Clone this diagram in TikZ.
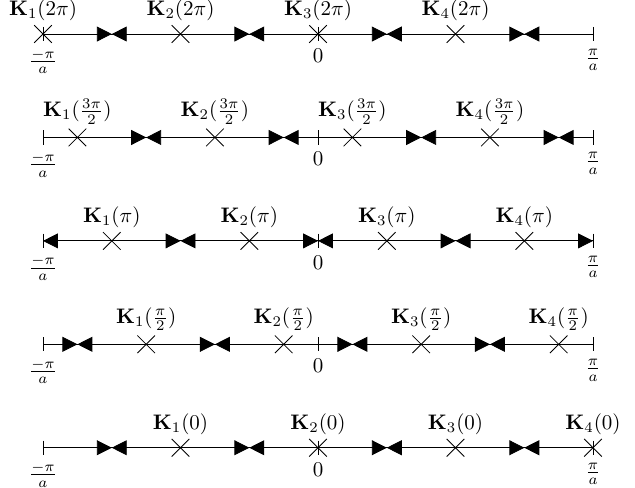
\documentclass[tikz,border=0pt]{standalone}
\usepackage{amsmath, amssymb}
\usepackage{tikz}
\usetikzlibrary{calc, arrows.meta, shapes.misc}

\begin{document}
\begin{tikzpicture}[x=2.3cm, y=1.73cm,
    crs/.style={draw, cross out, minimum size=0.28cm, inner sep=0pt},
    hd/.style={-{Triangle[length=0.25cm, width=0.25cm]}},
    klab/.style={inner sep=2pt}]
    \useasboundingbox (-2.313,0.329) rectangle (2.305,-4.387);
    \foreach \row/\sh/\kk in {0/0/2\pi, 1/0.25/\frac{3\pi}{2}, 2/0.5/\pi, 3/0.75/\frac{\pi}{2}, 4/1/0} {
      \coordinate (L\row) at (-2,-\row);
      \coordinate (O\row) at (0,-\row);
      \coordinate (R\row) at (2,-\row);
      \draw (L\row) -- (R\row);
      % ticks at the zone edges and at 0
      \foreach \tk/\lab in {L/\frac{-\pi}{a}, O/0, R/\frac{\pi}{a}}
        \draw (\tk\row) ++(0,0.12cm) -- ++(0,-0.24cm) node[below, inner sep=3.5pt] (t\tk\row) {$\lab$};
      \foreach \n in {1,...,4}
        \node[crs, label={[klab]above:$\mathbf{K}_{\n}(\kk)$}] (K\row\n) at (\n-3+\sh,-\row) {};
      % arrows, periodic copies cut off at the zone edges
      \begin{scope}
        \clip ($(L\row)+(0,-0.2)$) rectangle ($(R\row)+(0,0.2)$);
        \foreach \n in {0,...,5} {
          \coordinate (P) at (\n-3+\sh,-\row);
          \draw[hd] (P) -- ++(0.5,0);
          \draw[hd] (P) -- ++(-0.5,0);
        }
      \end{scope}
    }
\end{tikzpicture}
\end{document}
